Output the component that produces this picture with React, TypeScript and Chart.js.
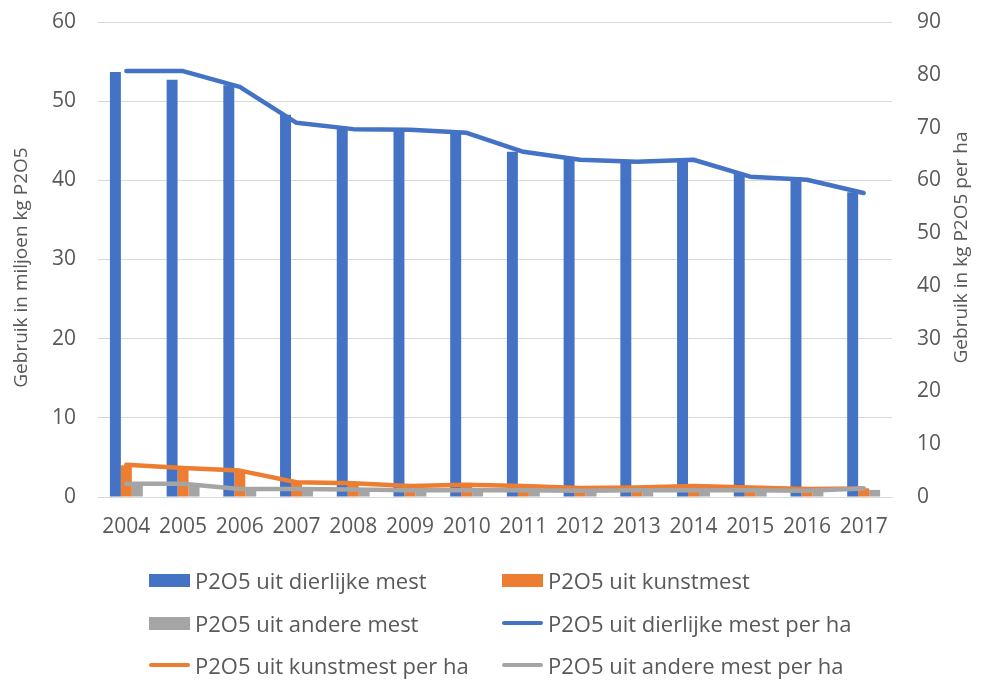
import React, { useEffect, useRef } from "react";
import { Chart, registerables } from "chart.js";

Chart.register(...registerables);

const years = ["2004", "2005", "2006", "2007", "2008", "2009", "2010", "2011", "2012", "2013", "2014", "2015", "2016", "2017"];

// miljoen kg P2O5 (left axis)
const dierlijkeMest = [53.7, 52.7, 52.0, 48.3, 46.7, 46.4, 46.0, 43.6, 42.9, 42.3, 42.7, 40.9, 40.4, 38.5];
const kunstmest = [4.0, 3.6, 3.3, 1.8, 1.7, 1.4, 1.5, 1.4, 1.1, 1.2, 1.4, 1.2, 1.0, 1.1];
const andereMest = [1.6, 1.6, 1.0, 1.0, 0.9, 0.8, 0.8, 0.8, 0.8, 0.8, 0.8, 0.8, 0.8, 0.9];

// kg P2O5 per ha (right axis)
const dierlijkePerHa = [80.7, 80.7, 77.7, 70.9, 69.7, 69.6, 69.0, 65.4, 63.9, 63.5, 63.9, 60.7, 60.1, 57.6];
const kunstmestPerHa = [6.1, 5.5, 5.0, 2.8, 2.6, 2.1, 2.3, 2.1, 1.7, 1.8, 2.1, 1.8, 1.5, 1.6];
const andereMestPerHa = [2.5, 2.5, 1.5, 1.5, 1.4, 1.3, 1.3, 1.3, 1.2, 1.3, 1.3, 1.3, 1.2, 1.6];

const leftAxis = { min: 0, max: 60, step: 10, title: "Gebruik in miljoen kg P2O5" };
const rightAxis = { min: 0, max: 90, step: 10, title: "Gebruik in kg P2O5 per ha" };

const BLUE = "#4472C4";
const ORANGE = "#ED7D31";
const GRAY = "#A5A5A5";
const TEXT = "#595959";
const GRID = "#D9D9D9";
const FONT = "'Open Sans', sans-serif";

const legendItems = [
  { label: "P2O5 uit dierlijke mest", color: BLUE, kind: "bar" },
  { label: "P2O5 uit kunstmest", color: ORANGE, kind: "bar" },
  { label: "P2O5 uit andere mest", color: GRAY, kind: "bar" },
  { label: "P2O5 uit dierlijke mest per ha", color: BLUE, kind: "line" },
  { label: "P2O5 uit kunstmest per ha", color: ORANGE, kind: "line" },
  { label: "P2O5 uit andere mest per ha", color: GRAY, kind: "line" },
];

const axisTitlePlugin = {
  id: "axisTitles",
  afterDraw(chart: any) {
    const ctx = chart.ctx;
    const area = chart.chartArea;
    ctx.save();
    ctx.fillStyle = TEXT;
    ctx.font = `19px ${FONT}`;
    ctx.textAlign = "center";
    ctx.textBaseline = "middle";
    const cy = (area.top + area.bottom) / 2;
    ctx.save();
    ctx.translate(22, cy + 8);
    ctx.rotate(-Math.PI / 2);
    ctx.fillText(leftAxis.title, 0, 0);
    ctx.restore();
    ctx.save();
    ctx.translate(chart.width - 33, cy - 12);
    ctx.rotate(-Math.PI / 2);
    ctx.fillText(rightAxis.title, 0, 0);
    ctx.restore();
    ctx.restore();
  },
};

export default function App() {
  const canvasRef = useRef<HTMLCanvasElement | null>(null);

  useEffect(() => {
    const canvas = canvasRef.current;
    if (!canvas) return;
    const lineCommon = {
      type: "line" as const,
      yAxisID: "y1",
      borderWidth: 4.5,
      pointRadius: 0,
      pointHoverRadius: 0,
      tension: 0,
      fill: false,
      borderJoinStyle: "round" as const,
      borderCapStyle: "round" as const,
      order: 0,
    };
    const barCommon = {
      type: "bar" as const,
      yAxisID: "y",
      categoryPercentage: 0.58,
      barPercentage: 1.0,
      borderWidth: 0,
      order: 1,
    };
    const chart = new Chart(canvas, {
      type: "bar",
      data: {
        labels: years,
        datasets: [
          { ...lineCommon, label: "P2O5 uit andere mest per ha", data: andereMestPerHa, borderColor: GRAY, backgroundColor: GRAY },
          { ...lineCommon, label: "P2O5 uit kunstmest per ha", data: kunstmestPerHa, borderColor: ORANGE, backgroundColor: ORANGE },
          { ...lineCommon, label: "P2O5 uit dierlijke mest per ha", data: dierlijkePerHa, borderColor: BLUE, backgroundColor: BLUE },
          { ...barCommon, label: "P2O5 uit dierlijke mest", data: dierlijkeMest, backgroundColor: BLUE },
          { ...barCommon, label: "P2O5 uit kunstmest", data: kunstmest, backgroundColor: ORANGE },
          { ...barCommon, label: "P2O5 uit andere mest", data: andereMest, backgroundColor: GRAY },
        ] as any,
      },
      options: {
        animation: false,
        responsive: true,
        maintainAspectRatio: false,
        layout: { padding: { left: 0, right: 0, top: 22, bottom: 0 } },
        plugins: {
          legend: { display: false },
          tooltip: { enabled: false },
          title: { display: false },
        },
        scales: {
          x: {
            grid: { display: false, drawTicks: false },
            border: { display: true, color: GRID, width: 1 },
            ticks: { color: TEXT, font: { family: FONT, size: 21 }, padding: 17, maxRotation: 0, autoSkip: false },
            afterFit(scale: any) {
              scale.height = 184;
            },
          },
          y: {
            position: "left",
            min: leftAxis.min,
            max: leftAxis.max,
            ticks: { stepSize: leftAxis.step, color: TEXT, font: { family: FONT, size: 21 }, padding: 0 },
            grid: { color: GRID, lineWidth: 1, drawTicks: true, tickLength: 22, tickColor: "rgba(0,0,0,0)" },
            border: { display: false },
            afterFit(scale: any) {
              scale.width = 98;
            },
          },
          y1: {
            position: "right",
            min: rightAxis.min,
            max: rightAxis.max,
            ticks: { stepSize: rightAxis.step, color: TEXT, font: { family: FONT, size: 21 }, padding: 0 },
            grid: { drawOnChartArea: false, drawTicks: true, tickLength: 25, tickColor: "rgba(0,0,0,0)" },
            border: { display: false },
            afterFit(scale: any) {
              scale.width = 103;
            },
          },
        },
      } as any,
      plugins: [axisTitlePlugin],
    });
    return () => chart.destroy();
  }, []);

  const cols = [149, 502];
  const rows = [580, 623, 665];

  return (
    <div style={{ position: "absolute", left: 0, top: 0, width: 995, height: 681, background: "#fff", overflow: "hidden" }}>
      <canvas ref={canvasRef} style={{ position: "absolute", left: 0, top: 0 }} />
      {legendItems.map((it, i) => {
        const col = i % 2;
        const row = Math.floor(i / 2);
        const x = cols[col];
        const y = rows[row];
        return (
          <div key={it.label} style={{ position: "absolute", left: x, top: y - 15, height: 30, display: "flex", alignItems: "center", whiteSpace: "nowrap" }}>
            <div
              style={{
                width: 41,
                height: it.kind === "bar" ? 13 : 4,
                background: it.color,
                borderRadius: it.kind === "bar" ? 0 : 2,
                marginRight: 5,
              }}
            />
            <span style={{ fontFamily: FONT, fontSize: 22, color: TEXT, lineHeight: "30px" }}>{it.label}</span>
          </div>
        );
      })}
    </div>
  );
}
